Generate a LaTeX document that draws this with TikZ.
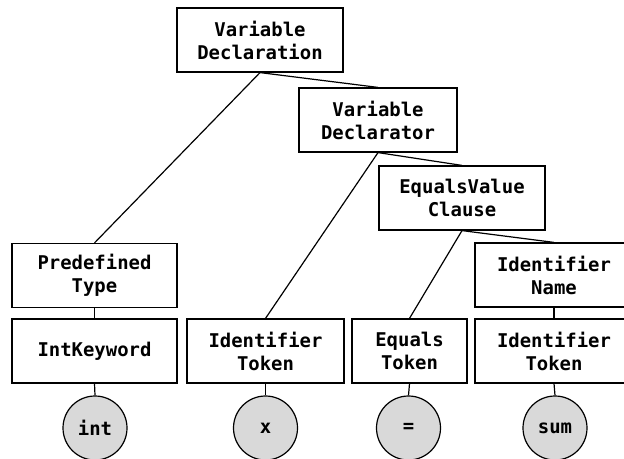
\documentclass[tikz,border=0pt]{standalone}
\usepackage{fontspec}
\newfontfamily\codefont{DejaVu Sans Mono}
\begin{document}
\begin{tikzpicture}[x=1bp,y=-1bp,
  box/.style={draw=black, line width=1.2bp, fill=white, inner sep=0pt, minimum height=64bp, align=center,
    font=\codefont\bfseries\fontsize{19}{23}\selectfont},
  leaf/.style={draw=black, line width=1.2bp, fill=black!15, circle, inner sep=0pt, minimum size=64bp,
    font=\codefont\bfseries\fontsize{19}{23}\selectfont},
  edge/.style={draw=black, line width=1.2bp}]
\useasboundingbox (0,0) rectangle (624,459);
\node[box, minimum width=166bp] (vdecl) at (260,40) {Variable\\Declaration};
\node[box, minimum width=158bp] (vdeclr) at (378,120) {Variable\\Declarator};
\node[box, minimum width=166bp] (evc) at (462,198) {EqualsValue\\Clause};
\node[box, minimum width=165bp] (ptype) at (94.5,275.5) {Predefined\\Type};
\node[box, minimum width=165bp] (intkw) at (94.5,351) {IntKeyword};
\node[box, minimum width=157bp] (idtok1) at (265.5,351) {Identifier\\Token};
\node[box, minimum width=115bp] (eqtok) at (409.5,351) {Equals\\Token};
\node[box, minimum width=158bp] (idname) at (554,275) {Identifier\\Name};
\node[box, minimum width=158bp] (idtok2) at (554,351) {Identifier\\Token};
\node[leaf] (cint) at (95,428) {int};
\node[leaf] (cx) at (265.5,428) {x};
\node[leaf] (ceq) at (408.5,428) {=};
\node[leaf] (csum) at (555,428) {sum};
\draw[edge] (vdecl.south) -- (ptype.north);
\draw[edge] (vdecl.south) -- (vdeclr.north);
\draw[edge] (vdeclr.south) -- (idtok1.north);
\draw[edge] (vdeclr.south) -- (evc.north);
\draw[edge] (evc.south) -- (eqtok.north);
\draw[edge] (evc.south) -- (idname.north);
\draw[edge] (ptype.south) -- (intkw.north);
\draw[edge] (idname.south) -- (idtok2.north);
\draw[edge] (intkw.south) -- (cint.north);
\draw[edge] (idtok1.south) -- (cx.north);
\draw[edge] (eqtok.south) -- (ceq.north);
\draw[edge] (idtok2.south) -- (csum.north);
\end{tikzpicture}
\end{document}
